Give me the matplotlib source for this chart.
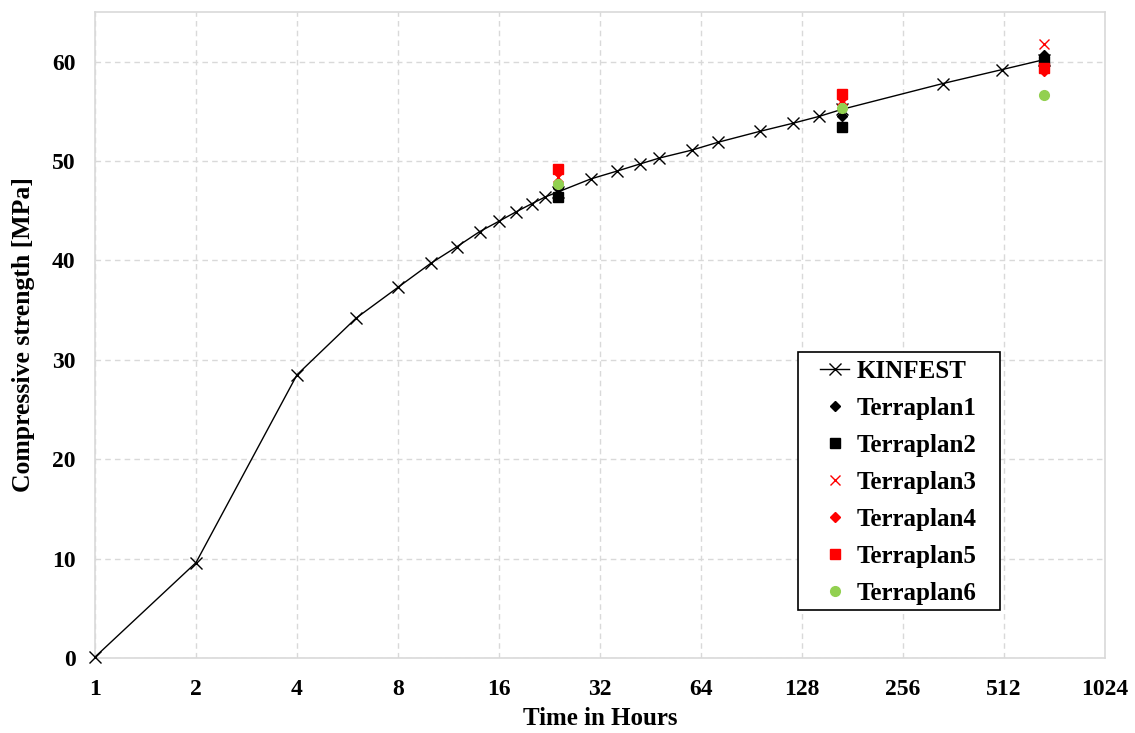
import matplotlib
matplotlib.use("Agg")
import matplotlib.pyplot as plt
from matplotlib.patches import Rectangle
from matplotlib.ticker import FixedLocator, FixedFormatter

plt.rcParams['font.family'] = ['Liberation Serif', 'DejaVu Serif']
plt.rcParams['font.weight'] = 'bold'

# KINFEST model curve
kin_hours = [1, 2, 4, 6, 8, 10, 12, 14, 16, 18, 20, 22, 24, 30, 36, 42, 48, 60, 72, 96, 120, 144, 168, 336, 504, 672]
kin_mpa = [0.1, 9.6, 28.5, 34.2, 37.3, 39.7, 41.4, 42.9, 43.95, 44.9, 45.7, 46.4, 46.9,
           48.2, 49.0, 49.7, 50.3, 51.1, 51.9, 53.0, 53.8, 54.5, 55.2, 57.8, 59.2, 60.2]

# Terraplan measurements (24 h, 7 d, 28 d)
test_hours = [24, 168, 672]
terra1 = [47.3, 54.5, 60.7]
terra2 = [46.4, 53.4, 60.1]
terra3 = [48.4, 56.1, 61.8]
terra4 = [48.9, 56.3, 59.1]
terra5 = [49.2, 56.8, 59.4]
terra6 = [47.7, 55.3, 56.7]

xticks = [1, 2, 4, 8, 16, 32, 64, 128, 256, 512, 1024]
yticks = [0, 10, 20, 30, 40, 50, 60]

fig = plt.figure(figsize=(11.35, 7.33), dpi=100)
ax = fig.add_axes([0.0837, 0.1023, 0.8899, 0.8813])

ax.plot(kin_hours, kin_mpa, color='black', lw=1, marker='x', ms=9, mew=1, label='KINFEST',
        zorder=3, clip_on=False)
ax.plot(test_hours, terra1, ls='none', marker='D', ms=5.5, color='black', label='Terraplan1', zorder=4)
ax.plot(test_hours, terra2, ls='none', marker='s', ms=7, color='black', label='Terraplan2', zorder=4)
ax.plot(test_hours, terra3, ls='none', marker='x', ms=7, mew=1, color='red', label='Terraplan3', zorder=4)
ax.plot(test_hours, terra4, ls='none', marker='D', ms=5.5, color='red', label='Terraplan4', zorder=4)
ax.plot(test_hours, terra5, ls='none', marker='s', ms=7, color='red', label='Terraplan5', zorder=4)
ax.plot(test_hours, terra6, ls='none', marker='o', ms=7, color='#92D050', label='Terraplan6', zorder=4)

ax.set_xscale('log', base=2)
ax.set_xlim(1, 1024)
ax.set_ylim(0, 65)
ax.xaxis.set_major_locator(FixedLocator(xticks))
ax.xaxis.set_major_formatter(FixedFormatter([str(t) for t in xticks]))
ax.xaxis.set_minor_locator(FixedLocator([]))
ax.set_yticks(yticks)

ax.grid(True, color='#d9d9d9', ls=(0, (4, 3)), lw=1)
ax.set_axisbelow(True)
for s in ax.spines.values():
    s.set_color('#d9d9d9')
    s.set_linewidth(1.2)
ax.tick_params(length=0, labelsize=17)
ax.tick_params(axis='x', pad=15)
ax.tick_params(axis='y', pad=14)

ax.set_xlabel('Time in Hours', fontsize=18, fontweight='bold', labelpad=5)
ax.set_ylabel('Compressive strength [MPa]', fontsize=18.5, fontweight='bold', labelpad=12)

# legend box drawn separately so the padding matches the original
ax.add_patch(Rectangle((0.696, 0.074), 0.2, 0.4, transform=ax.transAxes, facecolor='white',
                       edgecolor='black', lw=1.2, zorder=5))
leg = ax.legend(loc='center left', bbox_to_anchor=(0.718, 0.272), frameon=False,
                handlelength=1.15, handletextpad=0.3, labelspacing=0.56, borderpad=0,
                borderaxespad=0, prop={'weight': 'bold', 'size': 18})
leg.set_zorder(6)

fig.savefig('out.png', dpi=100)
